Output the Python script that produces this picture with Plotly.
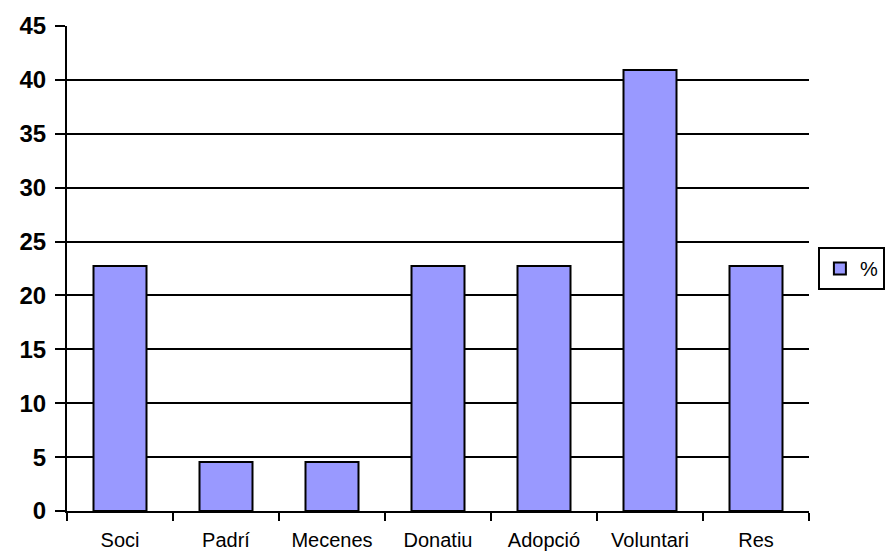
import plotly.graph_objects as go

categories = ["Soci", "Padrí", "Mecenes", "Donatiu", "Adopció", "Voluntari", "Res"]
percent = [22.73, 4.55, 4.55, 22.73, 22.73, 40.91, 22.73]
y_ticks = [0, 5, 10, 15, 20, 25, 30, 35, 40, 45]

fig = go.Figure()
fig.add_trace(go.Bar(
    x=categories,
    y=percent,
    name="%",
    marker=dict(color="#9999FF", line=dict(color="black", width=2)),
))

fig.update_layout(
    width=886,
    height=554,
    margin=dict(l=67, r=77, t=26, b=43, autoexpand=False),
    paper_bgcolor="white",
    plot_bgcolor="white",
    bargap=0.5,
    font=dict(family="Liberation Sans, Arial, sans-serif", color="black"),
    showlegend=True,
    legend=dict(
        x=1.012, xanchor="left", y=0.5, yanchor="middle",
        bordercolor="black", borderwidth=2,
        font=dict(size=20),
        itemwidth=30,
    ),
)

fig.update_yaxes(
    range=[0, 45],
    tickvals=y_ticks,
    showgrid=True, gridcolor="black", gridwidth=2,
    zeroline=False,
    showline=True, linecolor="black", linewidth=2,
    ticks="outside", ticklen=10, tickwidth=2, tickcolor="black",
    tickfont=dict(size=24, weight="bold", family="Liberation Sans, Arial, sans-serif", color="black"),
    ticklabelstandoff=4,
)

fig.update_xaxes(
    showline=True, linecolor="black", linewidth=2,
    ticks="outside", tickson="boundaries", ticklen=8, tickwidth=2, tickcolor="black",
    tickfont=dict(size=20),
    ticklabelstandoff=10,
    showgrid=False,
)

fig.write_html("out.html")
